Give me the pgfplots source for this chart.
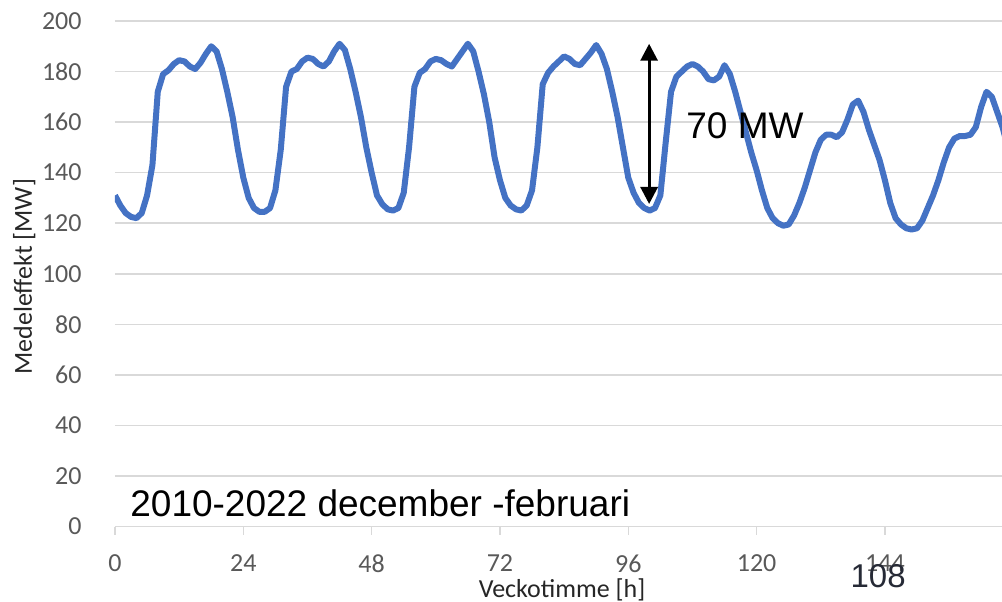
\documentclass[border=0pt]{standalone}
\usepackage{pgfplots}
\pgfplotsset{compat=1.18}
\usepackage{fontspec}
\setmainfont{Carlito}
\newfontfamily\arial{Liberation Sans}
\usetikzlibrary{arrows.meta}
\definecolor{linblue}{HTML}{4472C4}
\definecolor{gridgray}{HTML}{D9D9D9}
\definecolor{tickgray}{HTML}{595959}
\definecolor{labgray}{HTML}{262626}
\definecolor{numdark}{HTML}{262A36}
\begin{document}
\begin{tikzpicture}
\path[use as bounding box] (-57.5pt,-37.25pt) rectangle (443.5pt,263.25pt);
\begin{axis}[
  at={(0,0)}, anchor=south west,
  scale only axis,
  width=443.5pt, height=252.75pt,
  xmin=0, xmax=165.9, ymin=0, ymax=200,
  xtick={0,24,48,72,96,120,144},
  ytick={0,20,...,200},
  axis line style={draw=none},
  ymajorgrids, grid style={draw=gridgray, line width=0.75pt},
  xtick pos=bottom, ytick pos=left,
  tick align=outside,
  major tick length=4pt,
  xtick style={draw=gridgray, line width=0.75pt},
  ytick style={draw=none},
  /pgf/number format/assume math mode=true,
  tick label style={font=\fontsize{13}{15}\selectfont, text=tickgray},
  xticklabel style={anchor=north, inner sep=0pt, yshift=-10pt},
  yticklabel style={anchor=east, inner sep=0pt, xshift=-12.5pt},
  xlabel={Veckotimme [h]},
  xlabel style={at={(rel axis cs:0.504,-0.1414)}, anchor=base, inner sep=0pt, font=\fontsize{13}{15}\selectfont, text=labgray},
  ylabel={Medeleffekt [MW]},
  ylabel style={at={(rel axis cs:-0.0936,0.494)}, anchor=base, rotate=0, inner sep=0pt, font=\fontsize{13}{15}\selectfont, text=labgray},
  clip mode=individual,
]
\addplot[color=linblue, line width=3pt, line join=round] coordinates {
(0,131) (1,127) (2,124) (3,122.5) (4,122) (5,124) (6,131) (7,143) (8,172) (9,179)
(10,180.5) (11,183) (12,184.5) (13,184) (14,182) (15,181) (16,183.5) (17,187) (18,190) (19,188)
(20,181) (21,172) (22,162) (23,149) (24,138) (25,130) (26,126) (27,124.5) (28,124.5) (29,126)
(30,133) (31,149) (32,174) (33,180) (34,181) (35,184) (36,185.5) (37,185) (38,183) (39,182)
(40,184) (41,188) (42,191) (43,188.5) (44,181) (45,172) (46,162) (47,150) (48,140) (49,131)
(50,127.5) (51,125.5) (52,125) (53,126) (54,132) (55,150) (56,174) (57,179.5) (58,181) (59,184)
(60,185) (61,184.5) (62,183) (63,182) (64,185) (65,188) (66,191) (67,188) (68,180) (69,171)
(70,160) (71,146) (72,137) (73,130) (74,127) (75,125.5) (76,125) (77,127) (78,133) (79,150)
(80,175) (81,179.5) (82,182) (83,184) (84,186) (85,185) (86,183) (87,182.5) (88,185) (89,187.5)
(90,190.5) (91,187) (92,181) (93,172) (94,162) (95,150) (96,138) (97,132) (98,128) (99,126)
(100,125) (101,126) (102,131) (103,152) (104,172) (105,178) (106,180) (107,182) (108,183) (109,182)
(110,180) (111,177) (112,176.5) (113,178) (114,182.5) (115,179) (116,172) (117,164) (118,156) (119,148)
(120,141) (121,133) (122,126) (123,122) (124,120) (125,119) (126,119.5) (127,123) (128,128) (129,134)
(130,141) (131,148) (132,153) (133,155) (134,155) (135,154) (136,156) (137,161) (138,167) (139,168.5)
(140,164) (141,157) (142,151) (143,145) (144,137) (145,128) (146,122) (147,119.5) (148,118) (149,117.5)
(150,118) (151,121) (152,126) (153,131) (154,137) (155,144) (156,150) (157,153.5) (158,154.5) (159,154.5)
(160,155) (161,158) (162,166) (163,172) (164,170) (165,164) (166,158) (167,150)
};
\draw[black, line width=1.5pt, {Triangle[width=8.5pt,length=8.5pt]}-{Triangle[width=8.5pt,length=8.5pt]}] (axis cs:99.9,191) -- (axis cs:99.9,127.6);
\node[anchor=base west, inner sep=0pt, font=\arial\fontsize{18.5}{22}\selectfont] at (axis cs:106.8,153.6) {70 MW};
\node[anchor=base west, inner sep=0pt, font=\arial\fontsize{18.5}{22}\selectfont] at (axis cs:2.8,3.8) {2010-2022 december -februari};
\node[anchor=base west, inner sep=0pt, text=numdark, font=\arial\fontsize{16.5}{20}\selectfont] at (axis cs:137.5,-24) {108};
\end{axis}
\end{tikzpicture}
\end{document}
